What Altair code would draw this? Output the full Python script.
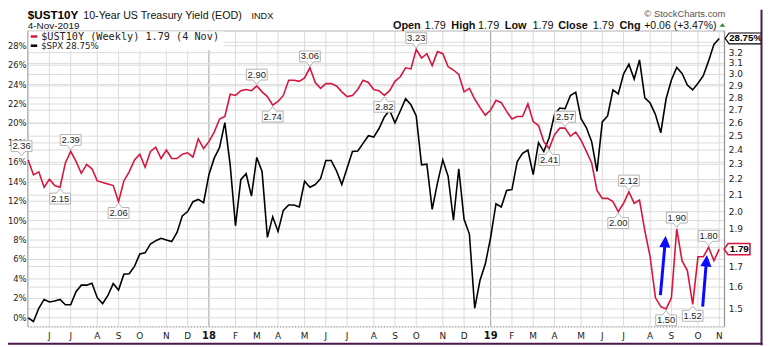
import altair as alt
import pandas as pd

# ---------------- data ----------------
START = "2017-05-08"  # first weekly bar (Monday)

ust = [2.33, 2.23, 2.25, 2.15, 2.20, 2.16, 2.15, 2.31, 2.39, 2.32,
       2.24, 2.30, 2.27, 2.19, 2.18, 2.17, 2.16, 2.06, 2.19, 2.25,
       2.33, 2.37, 2.28, 2.39, 2.42, 2.34, 2.40, 2.34, 2.34, 2.37,
       2.38, 2.35, 2.48, 2.41, 2.46, 2.53, 2.63, 2.65, 2.83, 2.82,
       2.86, 2.87, 2.86, 2.90, 2.85, 2.81, 2.74, 2.77, 2.82, 2.95,
       2.95, 2.94, 2.97, 3.06, 2.93, 2.88, 2.92, 2.92, 2.90, 2.85,
       2.81, 2.82, 2.87, 2.95, 2.93, 2.87, 2.86, 2.82, 2.86, 2.94,
       2.98, 3.06, 3.05, 3.23, 3.15, 3.19, 3.08, 3.21, 3.19, 3.07,
       3.04, 3.00, 2.85, 2.88, 2.79, 2.72, 2.66, 2.70, 2.78, 2.76,
       2.69, 2.63, 2.65, 2.65, 2.75, 2.61, 2.58, 2.46, 2.41, 2.51,
       2.56, 2.56, 2.50, 2.53, 2.47, 2.39, 2.31, 2.13, 2.08, 2.08,
       2.06, 2.00, 2.05, 2.12, 2.05, 2.07, 1.89, 1.75, 1.55, 1.51,
       1.50, 1.55, 1.90, 1.73, 1.68, 1.52, 1.75, 1.75, 1.80, 1.73,
       1.79]

spx = [0.00, -0.38, 0.98, 1.89, 1.63, 1.73, 1.89, 1.35, 1.35, 2.68,
       3.36, 3.36, 3.56, 2.07, 1.46, 2.30, 3.52, 2.85, 4.48, 4.54,
       5.29, 6.58, 6.68, 7.60, 7.94, 8.18, 8.00, 7.84, 8.79, 10.49,
       10.93, 11.95, 12.18, 11.84, 14.73, 16.43, 17.52, 20.09, 15.74, 9.47,
       14.22, 14.83, 12.52, 16.50, 15.07, 8.28, 10.39, 8.89, 11.06, 11.61,
       11.61, 11.41, 14.05, 13.44, 13.71, 14.32, 16.19, 16.19, 15.13, 13.71,
       15.41, 17.11, 17.17, 17.95, 18.74, 18.60, 19.48, 20.67, 21.35, 20.06,
       21.28, 22.54, 21.92, 20.77, 15.74, 15.81, 11.16, 13.88, 16.25, 14.56,
       10.04, 15.34, 10.14, 8.62, 0.98, 3.87, 5.56, 8.28, 11.74, 11.41,
       13.10, 13.20, 16.09, 16.93, 17.27, 14.73, 18.02, 17.11, 18.53, 20.91,
       21.59, 21.52, 22.87, 23.22, 20.50, 19.58, 18.13, 15.07, 20.16, 20.77,
       23.45, 23.04, 25.08, 26.10, 24.57, 26.54, 22.64, 22.10, 20.91, 19.04,
       22.54, 24.47, 25.76, 25.15, 23.96, 23.45, 24.13, 24.91, 26.44, 28.14,
       28.75]

month_letters = ["J", "F", "M", "A", "M", "J", "J", "A", "S", "O", "N", "D"]

left_ticks = [0, 2, 4, 6, 8, 10, 12, 14, 16, 18, 20, 22, 24, 26, 28]
right_ticks = [1.5, 1.6, 1.7, 1.8, 1.9, 2.0, 2.1, 2.2, 2.3, 2.4, 2.5,
               2.6, 2.7, 2.8, 2.9, 3.0, 3.1, 3.2, 3.3]
# labels that stay visible (1.8 and 3.3 sit under the last-value tags)
right_label_vals = [1.5, 1.6, 1.7, 1.9, 2.0, 2.1, 2.2, 2.3, 2.4, 2.5,
                    2.6, 2.7, 2.8, 2.9, 3.0, 3.1, 3.2]
right_labels = ["1.5", "1.6", "1.7", "1.9", "2.0", "2.1", "2.2", "2.3", "2.4", "2.5",
                "2.6", "2.7", "2.8", "2.9", "3.0", "3.1", "3.2"]

# swing-point annotations on the yield line
lab_idx = [0, 6, 8, 17, 43, 46, 53, 67, 73, 98, 101, 111, 113, 120, 122, 125, 128]
lab_txt = ["2.36", "2.15", "2.39", "2.06", "2.90", "2.74", "3.06", "2.82", "3.23",
           "2.41", "2.57", "2.00", "2.12", "1.50", "1.90", "1.52", "1.80"]
lab_side = ["above", "below", "above", "below", "above", "below", "above", "below",
            "above", "below", "above", "below", "above", "below", "above", "below", "above"]

# blue arrows (week index, yield)
arrow_from_i = [118.93, 126.88]
arrow_from_v = [1.563, 1.510]
arrow_to_i = [119.83, 127.58]
arrow_to_v = [1.829, 1.728]
arrow_angle = [4, 5]

# ---------------- build tables ----------------
n = len(ust)
dates = pd.date_range(START, periods=n, freq="7D")
df = pd.DataFrame({"i": list(range(n)), "ust": ust, "spx": spx})

tick_idx, tick_lab, tick_yr = [], [], []
for k in range(1, n):
    if dates[k].month != dates[k - 1].month:
        tick_idx.append(k)
        if dates[k].month == 1:
            tick_lab.append("%02d" % (dates[k].year % 100))
            tick_yr.append(True)
        else:
            tick_lab.append(month_letters[dates[k].month - 1])
            tick_yr.append(False)
xt = pd.DataFrame({"i": tick_idx, "lab": tick_lab, "yr": tick_yr})
xt_m = xt[~xt.yr]
xt_y = xt[xt.yr]
lt = pd.DataFrame({"v": left_ticks})
rt = pd.DataFrame({"v": right_ticks})
rtl = pd.DataFrame({"v": right_label_vals, "lab": right_labels})

labdf = pd.DataFrame({"i": lab_idx, "v": [ust[k] for k in lab_idx],
                      "t": lab_txt, "side": lab_side})
above = labdf[(labdf.side == "above") & (labdf.i != 0)]
below = labdf[labdf.side == "below"]
first = labdf[labdf.i == 0]

arr = pd.DataFrame({"x0": arrow_from_i, "y0": arrow_from_v,
                    "x1": arrow_to_i, "y1": arrow_to_v, "a": arrow_angle})
last = df.iloc[[n - 1]]

RED = "#d7163e"
BLUE = "#0a0aff"
GRID = "#dcdcdc"
FRAME = "#4b164b"
W, H = 704, 299

XS = alt.Scale(domain=[-0.07, 130.97], nice=False, zero=False)
YL = alt.Scale(domain=[-0.886, 29.56], nice=False, zero=False)
YR = alt.Scale(type="log", domain=[1.4244, 3.4162], nice=False)


def X(f):
    return alt.X(f, type="quantitative", scale=XS, axis=None)


def YRed(f):
    return alt.Y(f, type="quantitative", scale=YR, axis=None)


def YSpx(f):
    return alt.Y(f, type="quantitative", scale=YL, axis=None)


# ---------------- grid & axes (through the scales) ----------------
vgrid_m = alt.Chart(xt_m).mark_rule(strokeWidth=1, color=GRID).encode(
    x=X("i"), y=alt.value(0), y2=alt.value(H))
vgrid_y = alt.Chart(xt_y).mark_rule(strokeWidth=1, color="#9c9c9c").encode(
    x=X("i"), y=alt.value(0), y2=alt.value(H))
lgrid = alt.Chart(lt).mark_rule(strokeWidth=1, color=GRID).encode(
    y=YSpx("v"), x=alt.value(0), x2=alt.value(W))
rgrid = alt.Chart(rt).mark_rule(strokeWidth=1, color=GRID).encode(
    y=YRed("v"), x=alt.value(0), x2=alt.value(W))
xlab_m = alt.Chart(xt_m).mark_text(baseline="middle", font="DejaVu Sans", fontSize=9,
                                   color="#222").encode(
    x=X("i"), y=alt.value(308.7), text="lab:N")
xlab_y = alt.Chart(xt_y).mark_text(baseline="middle", font="DejaVu Sans", fontSize=10,
                                   fontWeight="bold", color="#111").encode(
    x=X("i"), y=alt.value(308.7), text="lab:N")
llab = alt.Chart(lt).transform_calculate(lab="datum.v + '%'").mark_text(
    align="right", baseline="middle", font="DejaVu Sans", fontSize=8.5, color="#222").encode(
    y=YSpx("v"), x=alt.value(-1.2), text="lab:N")
rlab = alt.Chart(rtl).mark_text(
    align="left", baseline="middle", font="DejaVu Sans", fontSize=9, color="#222").encode(
    y=YRed("v"), x=alt.value(W + 4.5), text="lab:N")

one = pd.DataFrame({"k": [0]})


def ptext(txt, x, y, size, weight="normal", font="Liberation Sans", color="#111", align="left",
          baseline="alphabetic"):
    return alt.Chart(one).mark_text(text=txt, font=font, fontSize=size, fontWeight=weight,
                                    color=color, align=align, baseline=baseline).encode(
        x=alt.value(x), y=alt.value(y))


def prule(x, x2, y, y2, color, w, dash=None):
    kw = dict(color=color, strokeWidth=w)
    if dash:
        kw["strokeDash"] = dash
    return alt.Chart(one).mark_rule(**kw).encode(
        x=alt.value(x), x2=alt.value(x2), y=alt.value(y), y2=alt.value(y2))


ax_left = prule(0, 0, 0, H, "#a0a0a0", 1)
ax_right = prule(W, W, 0, H, "#8c8c8c", 1)
ax_top = prule(0, W, 0.5, 0.5, "#c4c4c4", 1)
ax_bottom = prule(0, W, H + 0.5, H + 0.5, "#8c8c8c", 1, [1, 2])

# ---------------- SPX ----------------
spx_line = alt.Chart(df).mark_line(color="black", strokeWidth=1.6).encode(
    x=X("i"), y=YSpx("spx"))
spx_tag_box = alt.Chart(last).mark_point(
    shape="M6,0L10,-5.5H42.5V5.5H10Z", size=4, filled=True, fill="white",
    stroke="black", strokeWidth=1.2, opacity=1).encode(x=X("i"), y=YSpx("spx"))
spx_tag_txt = alt.Chart(last).transform_calculate(
    lab="format(datum.spx, '.2f') + '%'").mark_text(
    align="left", baseline="middle", dx=10, font="Liberation Sans", fontSize=9.8,
    fontWeight="bold", color="black").encode(x=X("i"), y=YSpx("spx"), text="lab:N")

# ---------------- UST ----------------
ust_line = alt.Chart(df).mark_line(color=RED, strokeWidth=1.6).encode(
    x=X("i"), y=YRed("ust"))

BOX_UP = "M-10.5,-17H10.5V-6H3.5L0,-1.5L-3.5,-6H-10.5Z"
BOX_DN = "M-10.5,6H-3.5L0,1.5L3.5,6H10.5V17H-10.5Z"
box_style = dict(size=4, filled=True, fill="white", stroke="#b3b3b3",
                 strokeWidth=1, opacity=1)
txt_style = dict(font="Liberation Sans", fontSize=9.5, color="#222",
                 baseline="middle", align="center")

box_above = alt.Chart(above).mark_point(shape=BOX_UP, **box_style).encode(x=X("i"), y=YRed("v"))
txt_above = alt.Chart(above).mark_text(dy=-11.5, **txt_style).encode(
    x=X("i"), y=YRed("v"), text="t:N")
box_below = alt.Chart(below).mark_point(shape=BOX_DN, **box_style).encode(x=X("i"), y=YRed("v"))
txt_below = alt.Chart(below).mark_text(dy=11.5, **txt_style).encode(
    x=X("i"), y=YRed("v"), text="t:N")
box_first = alt.Chart(first).mark_point(shape=BOX_UP, xOffset=-6.7, yOffset=-2.5,
                                        **box_style).encode(x=X("i"), y=YRed("v"))
txt_first = alt.Chart(first).mark_text(dx=-6.7, dy=-14, **txt_style).encode(
    x=X("i"), y=YRed("v"), text="t:N")

shaft = alt.Chart(arr).mark_rule(color=BLUE, strokeWidth=3).encode(
    x=X("x0"), y=YRed("y0"), x2="x1:Q", y2="y1:Q")
head = alt.Chart(arr).mark_point(shape="M0,-6.2L5.6,5.6L-5.6,5.6Z", size=4, filled=True,
                                 color=BLUE, opacity=1).encode(
    x=X("x1"), y=YRed("y1"), angle=alt.Angle("a:Q", scale=None))

ust_tag_box = alt.Chart(last).mark_point(
    shape="M5,0L9,-5.7H31V5.7H9Z", size=4, filled=True, fill="white",
    stroke=RED, strokeWidth=1.6, opacity=1).encode(x=X("i"), y=YRed("ust"))
ust_tag_txt = alt.Chart(last).mark_text(
    align="left", baseline="middle", dx=10.5, font="Liberation Sans", fontSize=10,
    fontWeight="bold", color="black").encode(
    x=X("i"), y=YRed("ust"), text=alt.Text("ust:Q", format=".2f"))

# ---------------- legend, header, frame ----------------
legend_bg = alt.Chart(one).mark_rect(color="white", opacity=1).encode(
    x=alt.value(1), x2=alt.value(198), y=alt.value(1), y2=alt.value(20))
leg1_dash = prule(3, 9.5, 6, 6, RED, 2.5)
leg2_dash = prule(3, 9.5, 15.3, 15.3, "black", 2.5)
leg1_txt = ptext("$UST10Y (Weekly) 1.79 (4 Nov)", 13.5, 6.3, 10.3, font="DejaVu Sans Mono",
                 color="#222", baseline="middle")
leg2_txt = ptext("$SPX 28.75%", 13.5, 15.5, 8.7, font="DejaVu Sans", color="#222",
                 baseline="middle")

hdr = [
    ptext("$UST10Y", 0, -11.8, 11.8, "bold", color="#000"),
    ptext("10-Year US Treasury Yield (EOD)", 56, -11.8, 10.8, color="#111"),
    ptext("INDX", 226, -11.8, 9.3, color="#111"),
    ptext("4-Nov-2019", 0, -1.6, 10, color="#111"),
    ptext("\u00a9 StockCharts.com", 705, -13.5, 9.5, color="#555", align="right"),
    ptext("Open", 369, -1.6, 11, "bold"),
    ptext("1.79", 401, -1.6, 11),
    ptext("High", 428, -1.6, 11, "bold"),
    ptext("1.79", 455, -1.6, 11),
    ptext("Low", 482, -1.6, 11, "bold"),
    ptext("1.79", 510, -1.6, 11),
    ptext("Close", 536, -1.6, 11, "bold"),
    ptext("1.79", 571, -1.6, 11),
    ptext("Chg", 598, -1.6, 11, "bold"),
    ptext("+0.06 (+3.47%)", 623, -1.6, 10.6),
]
up_tri = alt.Chart(one).mark_point(shape="M-3,1.8L0,-1.8L3,1.8Z", size=4, filled=True,
                                   color="#2e8b2e", opacity=1).encode(
    x=alt.value(702), y=alt.value(-5.6))

frame_r = prule(741.5, 741.5, -21, 318, FRAME, 2)
frame_b = prule(-20, 742.5, 316.5, 316.5, FRAME, 2)

chart = alt.layer(
    vgrid_m, vgrid_y, lgrid, rgrid, ax_left, ax_right, ax_top, ax_bottom,
    xlab_m, xlab_y, llab, rlab,
    spx_line, spx_tag_box, spx_tag_txt,
    ust_line, box_above, txt_above, box_below, txt_below, box_first, txt_first,
    shaft, head, ust_tag_box, ust_tag_txt,
    legend_bg, leg1_dash, leg2_dash, leg1_txt, leg2_txt,
    *hdr, up_tri, frame_r, frame_b
).resolve_scale(y="independent").properties(
    width=W, height=H,
    autosize=alt.AutoSizeParams(type="none"),
    padding={"left": 20, "top": 21, "right": 39, "bottom": 19},
).configure_view(stroke=None).configure(background="white")

chart.save("out.html", embed_options={"renderer": "svg", "actions": False})
